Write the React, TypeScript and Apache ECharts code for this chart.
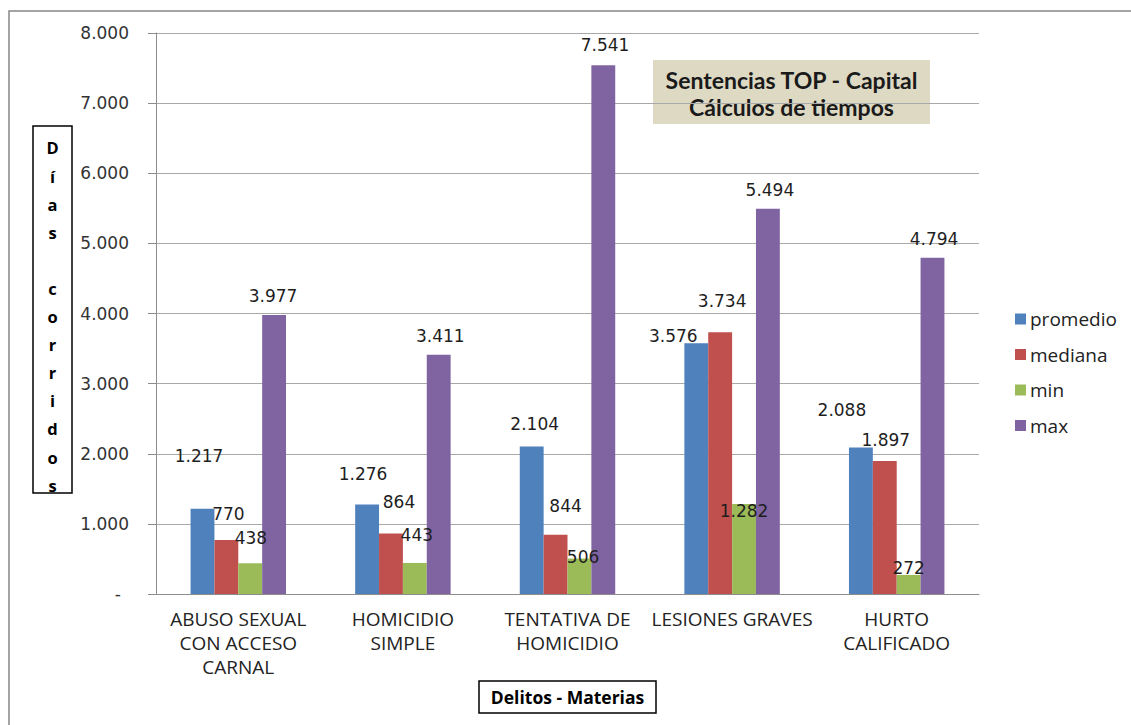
import React, { useEffect, useRef } from "react";
import * as echarts from "echarts";

const categories = [
  "ABUSO SEXUAL\nCON ACCESO\nCARNAL",
  "HOMICIDIO\nSIMPLE",
  "TENTATIVA DE\nHOMICIDIO",
  "LESIONES GRAVES",
  "HURTO\nCALIFICADO",
];
const promedio = [1217, 1276, 2104, 3576, 2088];
const mediana = [770, 864, 844, 3734, 1897];
const minimo = [438, 443, 506, 1282, 272];
const maximo = [3977, 3411, 7541, 5494, 4794];
const seriesNames = ["promedio", "mediana", "min", "max"];
const seriesValues = [promedio, mediana, minimo, maximo];
const colors = ["#4f81bd", "#c0504d", "#9bbb59", "#8064a2"];
const yTicks = { min: 0, max: 8000, interval: 1000 };

// label placement (styles, not data)
const labelOffsets = [
  [[-3.5, -44], [-4, -22], [3, -13.5], [-23, 1.5], [-19, -28.3]],
  [[2, -17], [8, -22.7], [10, -20], [2, -22.4], [1, -12.3]],
  [[0.7, -16], [2, -18.6], [3.6, 7.5], [0, 15.7], [0, 1.9]],
  [[-1, -10.4], [1.6, -9.5], [1.7, -11], [2, -9.7], [1.5, -10.2]],
];

const fmt = (v: number) => String(v).replace(/\B(?=(\d{3})+(?!\d))/g, ".");

export default function App() {
  const ref = useRef<HTMLDivElement>(null);
  useEffect(() => {
    if (!ref.current) return;
    const chart = echarts.init(ref.current, null, { renderer: "svg" });
    const numFont = "DejaVu Sans";
    const txtFont = "Open Sans";
    const option: any = {
      animation: false,
      backgroundColor: "#ffffff",
      grid: { left: 156, top: 33, width: 823, height: 561, containLabel: false },
      legend: {
        orient: "vertical",
        left: 1010,
        top: 304,
        icon: "rect",
        itemWidth: 11,
        itemHeight: 11,
        itemGap: 15.5,
        itemStyle: { borderWidth: 0 },
        textStyle: { fontFamily: txtFont, fontSize: 19, lineHeight: 20, color: "#222", padding: [0, 0, 0, -1] },
        data: seriesNames,
      },
      xAxis: {
        type: "category",
        data: categories,
        axisLine: { show: true, lineStyle: { color: "#8c8c8c", width: 1 } },
        axisTick: { show: false },
        axisLabel: {
          interval: 0,
          margin: 13,
          fontFamily: txtFont,
          fontSize: 19,
          lineHeight: 24,
          color: "#222",
        },
      },
      yAxis: {
        type: "value",
        min: yTicks.min,
        max: yTicks.max,
        interval: yTicks.interval,
        axisLine: { show: true, lineStyle: { color: "#8c8c8c", width: 1 } },
        axisTick: { show: true, inside: false, length: 8, lineStyle: { color: "#8c8c8c" } },
        splitLine: { show: true, lineStyle: { color: "#a9a9a9", width: 1 } },
        axisLabel: {
          margin: 27,
          fontFamily: numFont,
          fontSize: 17,
          color: "#333",
          formatter: (v: number) => (v === 0 ? "{d|-}" : fmt(v)),
          rich: { d: { fontFamily: numFont, fontSize: 17, color: "#333", padding: [0, 8, 0, 0] } },
        },
      },
      series: seriesNames.map((name, si) => ({
        name,
        type: "bar",
        barGap: "0%",
        barCategoryGap: "42%",
        itemStyle: { color: colors[si] },
        label: {
          show: true,
          position: "top",
          distance: 0,
          fontFamily: numFont,
          fontSize: 17,
          lineHeight: 18,
          color: "#1e1e1e",
          formatter: (p: any) => fmt(p.value),
        },
        data: seriesValues[si].map((v, ci) => ({
          value: v,
          label: { offset: labelOffsets[si][ci] },
        })),
      })),
      graphic: [
        {
          type: "rect",
          shape: { x: 9, y: 11, width: 1200, height: 800 },
          style: { fill: "none", stroke: "#868686", lineWidth: 1.5 },
          silent: true,
        },
        {
          type: "rect",
          shape: { x: 653, y: 60, width: 277, height: 64 },
          style: { fill: "#ddd9c3" },
        },
        {
          type: "text",
          x: 791.5,
          y: 93.5,
          style: {
            text: "Sentencias TOP - Capital\nCálculos de tiempos",
            fontFamily: "Lato",
            fontWeight: "bold",
            fontSize: 23,
            lineHeight: 27,
            fill: "#1a1a1a",
            align: "center",
            verticalAlign: "middle",
            textAlign: "center",
            textVerticalAlign: "middle",
          },
        },
        {
          type: "rect",
          shape: { x: 33, y: 126, width: 39, height: 367 },
          style: { fill: "#ffffff", stroke: "#000", lineWidth: 1.5 },
        },
        {
          type: "text",
          x: 52.5,
          y: 316.5,
          style: {
            text: "D\ní\na\ns\n \nc\no\nr\nr\ni\nd\no\ns",
            fontFamily: txtFont,
            fontWeight: "bold",
            fontSize: 16.5,
            lineHeight: 28.1,
            fill: "#000",
            align: "center",
            verticalAlign: "middle",
            textAlign: "center",
            textVerticalAlign: "middle",
          },
        },
        {
          type: "rect",
          shape: { x: 479, y: 681, width: 177, height: 32 },
          style: { fill: "#ffffff", stroke: "#000", lineWidth: 1.5 },
        },
        {
          type: "text",
          x: 567.5,
          y: 697,
          style: {
            text: "Delitos - Materias",
            fontFamily: txtFont,
            fontWeight: "bold",
            fontSize: 17.5,
            fill: "#000",
            align: "center",
            verticalAlign: "middle",
            textAlign: "center",
            textVerticalAlign: "middle",
          },
        },
      ],
    };
    chart.setOption(option);
    return () => chart.dispose();
  }, []);
  return (
    <div
      ref={ref}
      style={{ position: "fixed", left: 0, top: 0, width: 1131, height: 725 }}
    />
  );
}
